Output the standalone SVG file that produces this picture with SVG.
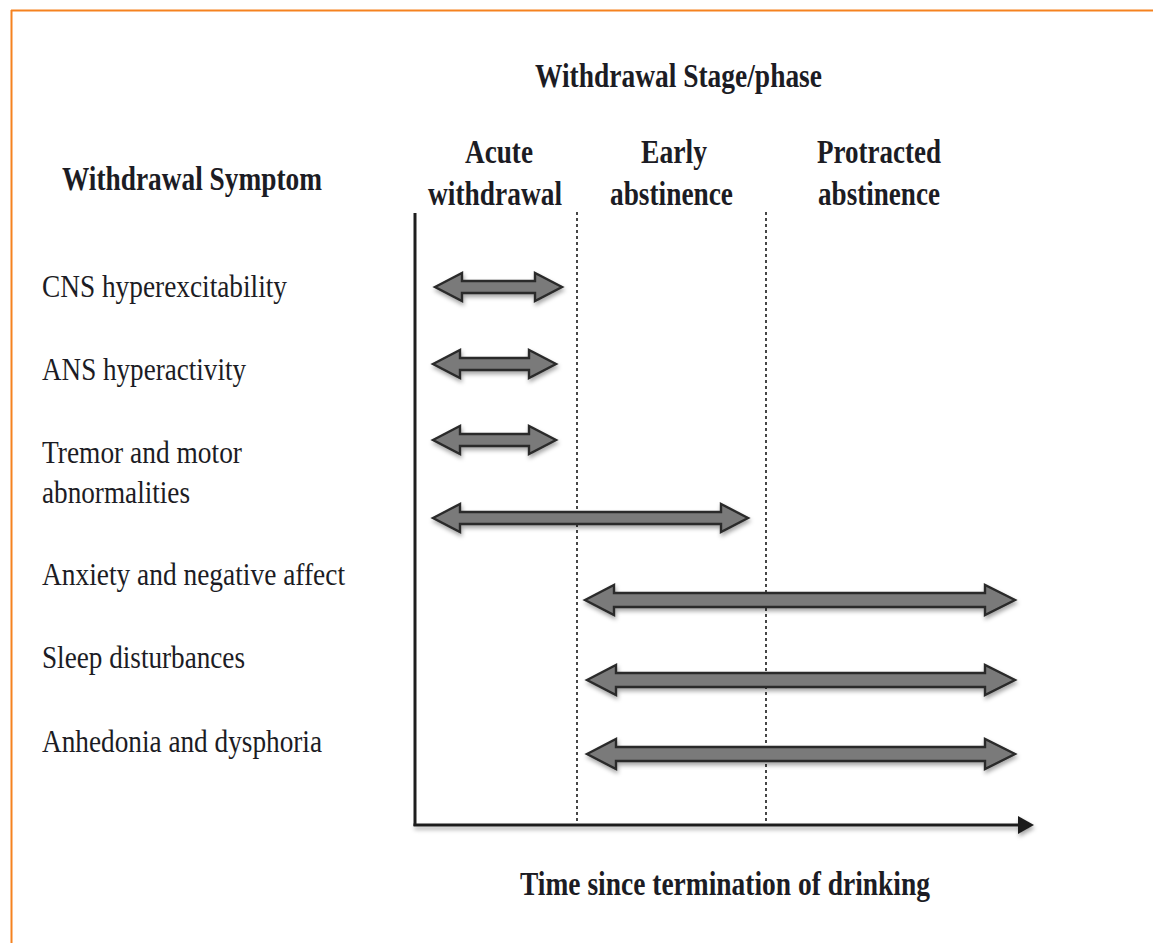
<svg xmlns="http://www.w3.org/2000/svg" width="1153" height="943" viewBox="0 0 1153 943">
<style>
.h{font-family:"Liberation Serif","Times New Roman",serif;font-weight:bold;font-size:33px;fill:#1c1c24}
.l{font-family:"Liberation Serif","Times New Roman",serif;font-size:32px;fill:#1c1c24}
.arr{fill:#7a7a7a;stroke:#2a2a2a;stroke-width:2.4;stroke-linejoin:miter}
.dash{stroke:#333;stroke-width:1.8;stroke-dasharray:3 3;fill:none}
.axis{stroke:#1e1e1e;stroke-width:3;fill:none}
</style>
<defs>
<filter id="sh" x="-5%" y="-60%" width="110%" height="220%">
<feDropShadow dx="1" dy="3" stdDeviation="2" flood-color="#000" flood-opacity="0.35"/>
</filter>
</defs>
<rect width="1153" height="943" fill="#fff"/>
<g id="frame">
<line x1="11" y1="10.5" x2="1153" y2="10.5" stroke="#f5821f" stroke-width="2"/>
<line x1="11.5" y1="10" x2="11.5" y2="943" stroke="#f5821f" stroke-width="2"/>
</g>
<g id="headings">
<text class="h" x="535" y="87" textLength="287" lengthAdjust="spacingAndGlyphs">Withdrawal Stage/phase</text>
<text class="h" x="62" y="190" textLength="260" lengthAdjust="spacingAndGlyphs">Withdrawal Symptom</text>
</g>
<g id="phase-acute">
<text class="h" x="465" y="163" textLength="68" lengthAdjust="spacingAndGlyphs">Acute</text>
<text class="h" x="428" y="205" textLength="134" lengthAdjust="spacingAndGlyphs">withdrawal</text>
</g>
<g id="phase-early">
<text class="h" x="641" y="163" textLength="66" lengthAdjust="spacingAndGlyphs">Early</text>
<text class="h" x="610" y="205" textLength="123" lengthAdjust="spacingAndGlyphs">abstinence</text>
</g>
<g id="phase-protracted">
<text class="h" x="817" y="163" textLength="124" lengthAdjust="spacingAndGlyphs">Protracted</text>
<text class="h" x="818" y="205" textLength="122" lengthAdjust="spacingAndGlyphs">abstinence</text>
</g>
<g id="symptoms">
<text class="l" x="42" y="297" textLength="245" lengthAdjust="spacingAndGlyphs">CNS hyperexcitability</text>
<text class="l" x="42" y="380" textLength="204" lengthAdjust="spacingAndGlyphs">ANS hyperactivity</text>
<text class="l" x="42" y="463" textLength="200" lengthAdjust="spacingAndGlyphs">Tremor and motor</text>
<text class="l" x="42" y="503" textLength="148" lengthAdjust="spacingAndGlyphs">abnormalities</text>
<text class="l" x="42" y="585" textLength="303" lengthAdjust="spacingAndGlyphs">Anxiety and negative affect</text>
<text class="l" x="42" y="668" textLength="203" lengthAdjust="spacingAndGlyphs">Sleep disturbances</text>
<text class="l" x="42" y="752" textLength="280" lengthAdjust="spacingAndGlyphs">Anhedonia and dysphoria</text>
</g>
<g id="axes">
<line class="dash" x1="577" y1="212" x2="577" y2="824"/>
<line class="dash" x1="766" y1="212" x2="766" y2="824"/>
<line class="axis" x1="415" y1="213" x2="415" y2="826"/>
<g filter="url(#sh)">
<line class="axis" x1="413.5" y1="825" x2="1020" y2="825"/>
<polygon points="1018,816 1034,825 1018,834" fill="#1e1e1e"/>
</g>
<text class="h" x="520" y="895" textLength="410" lengthAdjust="spacingAndGlyphs">Time since termination of drinking</text>
</g>
<g id="connectors" filter="url(#sh)">
<path class="arr" d="M435,287 L462,273 L462,281 L535,281 L535,273 L562,287 L535,301 L535,293 L462,293 L462,301 Z"/>
<path class="arr" d="M433,364 L460,350 L460,358 L529,358 L529,350 L556,364 L529,378 L529,370 L460,370 L460,378 Z"/>
<path class="arr" d="M433,440 L460,426 L460,434 L529,434 L529,426 L556,440 L529,454 L529,446 L460,446 L460,454 Z"/>
<path class="arr" d="M433,518 L460,504 L460,512 L721,512 L721,504 L748,518 L721,532 L721,524 L460,524 L460,532 Z"/>
<path class="arr" d="M585,600 L614,585 L614,593 L985,593 L985,585 L1015,600 L985,615 L985,607 L614,607 L614,615 Z"/>
<path class="arr" d="M587,680 L616,665 L616,673 L985,673 L985,665 L1015,680 L985,695 L985,687 L616,687 L616,695 Z"/>
<path class="arr" d="M587,754 L616,739 L616,747 L985,747 L985,739 L1015,754 L985,769 L985,761 L616,761 L616,769 Z"/>
</g>
</svg>
